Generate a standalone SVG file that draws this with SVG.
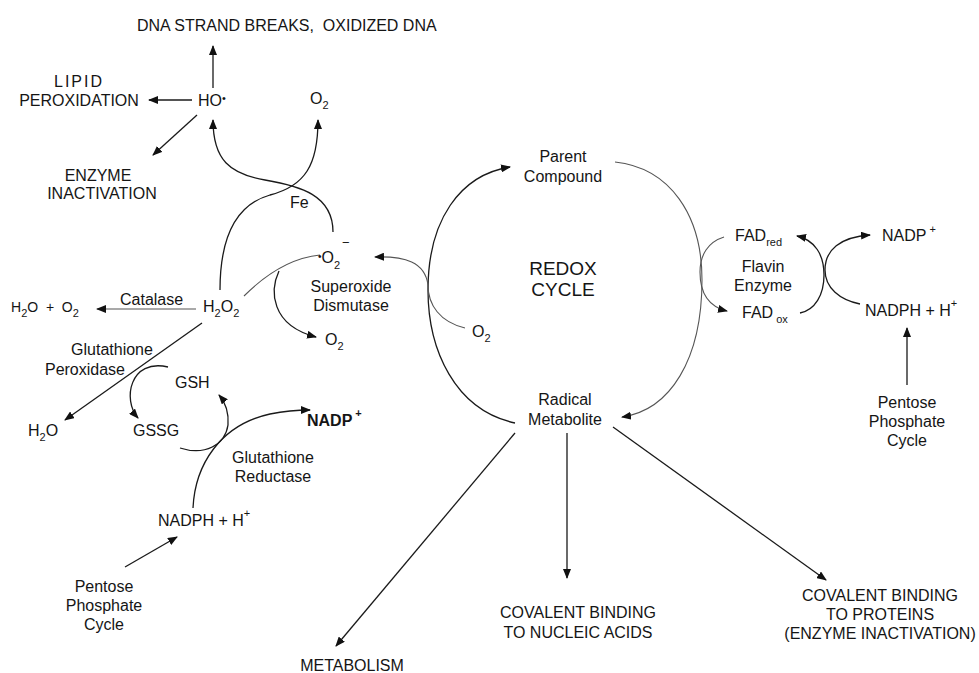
<svg xmlns="http://www.w3.org/2000/svg" width="979" height="673" viewBox="0 0 979 673">
<defs>
<marker id="ah" viewBox="0 0 10 8" refX="9" refY="4" markerWidth="10" markerHeight="8" markerUnits="userSpaceOnUse" orient="auto"><path d="M0,0 L10,4 L0,8 z" fill="#111"/></marker>
<style>
.t{font-family:"Liberation Sans",Arial,sans-serif;font-size:16px;fill:#151515}
.c{text-anchor:middle}
.sm{font-size:14px}
.sub{font-size:11px}
.big{font-size:19px}
.ln{fill:none;stroke:#1a1a1a;stroke-width:1.3}
.lg{fill:none;stroke:#555;stroke-width:1.1}
.ar{marker-end:url(#ah)}
</style>
</defs>
<rect width="979" height="673" fill="#fff"/>
<g id="connectors">
<path class="ln ar" d="M213,88 L213,46"/>
<path class="ln ar" d="M192,100 L149,100"/>
<path class="ln ar" d="M197,115 L153,155"/>
<path class="ln ar" d="M333,232 C333,195 300,186 265,180 C230,174 213,160 213,120"/>
<path class="ln ar" d="M220,290 C220,240 235,205 270,195 C305,186 318,165 318,120"/>
<path class="lg" d="M320,255 C290,258 265,275 244,296"/>
<path class="ln ar" d="M279,271 C270,290 270,325 316,337"/>
<path class="lg ar" d="M196,309 L97,309"/>
<path class="ln ar" d="M202,323 L65,420"/>
<path class="ln ar" d="M168,367 C130,358 122,400 138,418"/>
<path class="ln ar" d="M180,448 C205,456 225,445 228,425 C229,412 225,402 219,395"/>
<path class="ln ar" d="M193,508 C195,465 220,425 270,414 C285,411 298,410 310,410"/>
<path class="ln ar" d="M125,567 L177,537"/>
<path class="ln ar" d="M515,423 C455,410 428,350 428,290 C428,220 460,175 510,167"/>
<path class="lg ar" d="M615,162 C670,168 702,215 702,280 C702,360 670,410 622,417"/>
<path class="lg ar" d="M465,328 C440,322 428,305 428,285 C425,262 405,256 375,257"/>
<path class="lg ar" d="M724,237 C708,242 700,255 700,272 C700,295 710,307 727,311"/>
<path class="ln ar" d="M800,313 C815,310 824,295 824,275 C824,255 815,240 797,236"/>
<path class="ln ar" d="M860,304 C840,300 825,288 825,270 C825,250 840,237 870,235"/>
<path class="ln ar" d="M907,385 L907,328"/>
<path class="ln ar" d="M567,433 L567,578"/>
<path class="ln ar" d="M515,433 L336,646"/>
<path class="ln ar" d="M613,427 L826,580"/>
</g>
<g id="dna"><text class="t" x="137" y="31">DNA STRAND BREAKS,&#160; OXIDIZED DNA</text></g>
<g id="lipid"><text class="t c" x="79" y="87" font-size="13" letter-spacing="2" fill="#444">LIPID</text><text class="t c" x="79" y="106">PEROXIDATION</text></g>
<g id="ho"><text class="t" x="198" y="106">HO<tspan font-size="11" dy="-4">•</tspan></text></g>
<g id="o2top"><text class="t" x="310" y="104">O<tspan class="sub" dy="5">2</tspan></text></g>
<g id="enzinact"><text class="t c" x="98" y="181">ENZYME</text><text class="t c" x="102" y="199">INACTIVATION</text></g>
<g id="fe"><text class="t" x="290" y="208" font-size="15">Fe</text></g>
<g id="superoxide"><text class="t" x="318" y="263"><tspan font-size="10" dy="-3">•</tspan><tspan dy="3">O</tspan><tspan class="sub" dy="6">2</tspan><tspan x="342" y="247" font-size="13">−</tspan></text></g>
<g id="sod"><text class="t c" x="351" y="292">Superoxide</text><text class="t c" x="351" y="311">Dismutase</text></g>
<g id="o2sod"><text class="t" x="325" y="345">O<tspan class="sub" dy="5">2</tspan></text></g>
<g id="catalase"><text class="t" x="120" y="305">Catalase</text></g>
<g id="h2oo2"><text class="t sm" x="11" y="312" fill="#333">H<tspan class="sub" dy="5">2</tspan><tspan dy="-5">O&#160; +&#160; O</tspan><tspan class="sub" dy="5">2</tspan></text></g>
<g id="h2o2"><text class="t" x="203" y="312">H<tspan class="sub" dy="5">2</tspan><tspan dy="-5">O</tspan><tspan class="sub" dy="5">2</tspan></text></g>
<g id="gpx"><text class="t c" x="112" y="355">Glutathione</text><text class="t c" x="85" y="375">Peroxidase</text></g>
<g id="gsh"><text class="t" x="175" y="388">GSH</text></g>
<g id="gssg"><text class="t" x="133" y="436">GSSG</text></g>
<g id="h2o"><text class="t" x="28" y="436">H<tspan class="sub" dy="5">2</tspan><tspan dy="-5">O</tspan></text></g>
<g id="nadp-l"><text class="t" x="307" y="426" font-weight="bold">NADP<tspan class="sub" dx="3" dy="-9">+</tspan></text></g>
<g id="gr"><text class="t c" x="273" y="463">Glutathione</text><text class="t c" x="273" y="482">Reductase</text></g>
<g id="nadph-l"><text class="t" x="158" y="526">NADPH + H<tspan class="sub" dy="-9">+</tspan></text></g>
<g id="ppc-l"><text class="t c" x="104" y="592">Pentose</text><text class="t c" x="104" y="611">Phosphate</text><text class="t c" x="104" y="630">Cycle</text></g>
<g id="parent"><text class="t c" x="563" y="162">Parent</text><text class="t c" x="563" y="182">Compound</text></g>
<g id="redox"><text class="t c big" x="563" y="275">REDOX</text><text class="t c big" x="563" y="296">CYCLE</text></g>
<g id="o2cyc"><text class="t" x="472" y="337">O<tspan class="sub" dy="5">2</tspan></text></g>
<g id="radical"><text class="t c" x="565" y="405">Radical</text><text class="t c" x="565" y="425">Metabolite</text></g>
<g id="fadred"><text class="t" x="735" y="241">FAD<tspan class="sub" dy="5">red</tspan></text></g>
<g id="flavin"><text class="t c" x="763" y="272">Flavin</text><text class="t c" x="763" y="291">Enzyme</text></g>
<g id="fadox"><text class="t" x="742" y="318">FAD<tspan class="sub" dx="3" dy="5">ox</tspan></text></g>
<g id="nadp-r"><text class="t" x="882" y="241">NADP<tspan class="sub" dx="3" dy="-8">+</tspan></text></g>
<g id="nadph-r"><text class="t" x="865" y="316">NADPH + H<tspan class="sub" dy="-9">+</tspan></text></g>
<g id="ppc-r"><text class="t c" x="907" y="408">Pentose</text><text class="t c" x="907" y="427">Phosphate</text><text class="t c" x="907" y="446">Cycle</text></g>
<g id="nucleic"><text class="t c" x="578" y="618">COVALENT BINDING</text><text class="t c" x="578" y="638">TO NUCLEIC ACIDS</text></g>
<g id="proteins"><text class="t c" x="880" y="601">COVALENT BINDING</text><text class="t c" x="880" y="620">TO PROTEINS</text><text class="t c" x="880" y="639">(ENZYME INACTIVATION)</text></g>
<g id="metabolism"><text class="t c" x="352" y="671">METABOLISM</text></g>
</svg>
